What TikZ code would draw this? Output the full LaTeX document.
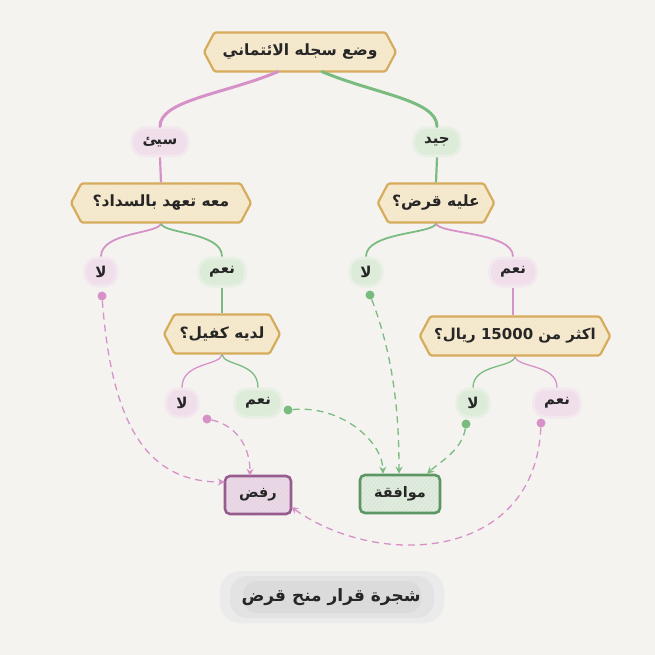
\documentclass[tikz,border=0pt]{standalone}
\usepackage{fontspec}
\TeXXeTstate=1
\newfontfamily\arabicfont[Script=Arabic]{DejaVu Sans}
\usetikzlibrary{shapes.symbols,patterns.meta,arrows.meta}
\newcommand\artxt[1]{{\arabicfont\bfseries\beginR #1\endR}}
\definecolor{bg}{RGB}{245,243,240}
\definecolor{pinkline}{RGB}{214,146,200}
\definecolor{greenline}{RGB}{122,188,128}
\definecolor{pinkblob}{RGB}{240,222,235}
\definecolor{greenblob}{RGB}{220,236,217}
\definecolor{hexfill}{RGB}{246,234,206}
\definecolor{hexborder}{RGB}{214,172,92}
\definecolor{rejfill}{RGB}{234,216,230}
\definecolor{rejborder}{RGB}{150,92,142}
\definecolor{appfill}{RGB}{224,236,221}
\definecolor{appborder}{RGB}{92,150,98}
\definecolor{ink}{RGB}{38,38,38}
\tikzset{
  hexbox/.style={signal, signal to=east and west, signal pointer angle=124,
    draw=hexborder, line width=2.2pt, rounded corners=1.5pt,
    preaction={fill=hexfill},
    pattern={Lines[angle=50,distance=3.2pt,line width=0.35pt]}, pattern color=hexborder!35,
    minimum height=39pt, inner xsep=4pt, font=\fontsize{15.5}{17}\selectfont, text=ink},
  pinklab/.style={fill=pinkblob, draw=pinkblob, draw opacity=0.5, line width=6pt, rounded corners=11pt,
    minimum height=25pt, minimum width=25pt, inner xsep=9pt, font=\fontsize{15}{17}\selectfont, text=ink},
  greenlab/.style={pinklab, fill=greenblob, draw=greenblob},
  pdot/.style={circle, fill=pinkline, inner sep=0pt, minimum size=9pt},
  gdot/.style={circle, fill=greenline, inner sep=0pt, minimum size=9pt},
  resbox/.style={rounded corners=5pt, line width=2.6pt, minimum height=38pt,
    font=\fontsize{14.5}{16}\selectfont, text=ink},
  pdash/.style={draw=pinkline, line width=1.3pt, dash pattern=on 7pt off 5pt, -{Stealth[length=7pt,width=7pt]}},
  gdash/.style={draw=greenline, line width=1.3pt, dash pattern=on 7pt off 5pt, -{Stealth[length=7pt,width=7pt]}},
}
\begin{document}
\begin{tikzpicture}[x=1pt,y=-1pt]
\useasboundingbox (0,0) rectangle (655,655);
\fill[bg] (0,0) rectangle (655,655);

% title blob
\fill[gray!16, rounded corners=20pt] (220,571) rectangle (444,623);
\fill[gray!22, rounded corners=17pt] (230,576) rectangle (434,618);
\fill[gray!28, rounded corners=14pt] (243,581) rectangle (421,613);
\node (title) at (331,597) {\fontsize{17}{19}\selectfont\color{ink}\artxt{شجرة قرار منح قرض}};

% nodes
\node[hexbox, minimum width=192pt] (root) at (300,52) {\artxt{وضع سجله الائتماني}};
\node[pinklab] (bad) at (160,142) {\artxt{سيئ}};
\node[greenlab] (good) at (437,142) {\artxt{جيد}};
\node[hexbox, minimum width=180pt] (q1) at (161,203) {\artxt{معه تعهد بالسداد؟}};
\node[hexbox, minimum width=116pt] (q2) at (436,203) {\artxt{عليه قرض؟}};
\node[pinklab] (n1) at (101,272) {\artxt{لا}};
\node[greenlab] (y1) at (222,272) {\artxt{نعم}};
\node[greenlab] (n2) at (366,272) {\artxt{لا}};
\node[pinklab] (y2) at (513,272) {\artxt{نعم}};
\node[hexbox, minimum width=116pt] (q3) at (222,334) {\artxt{لديه كفيل؟}};
\node[hexbox, minimum width=184pt, font=\fontsize{15}{17}\selectfont] (q4) at (515,336) {\artxt{اكثر من \beginL15000\endL{} ريال؟}};
\node[pinklab] (n3) at (182,403) {\artxt{لا}};
\node[greenlab] (y3) at (258,403) {\artxt{نعم}};
\node[greenlab] (n4) at (473,403) {\artxt{لا}};
\node[pinklab] (y4) at (557,403) {\artxt{نعم}};
\node[resbox, draw=rejborder, preaction={fill=rejfill}, pattern={Lines[angle=50,distance=3pt,line width=0.35pt]}, pattern color=rejborder!30, minimum width=66pt] (reject) at (258,495) {\artxt{رفض}};
\node[resbox, draw=appborder, preaction={fill=appfill}, pattern={Lines[angle=50,distance=3pt,line width=0.35pt]}, pattern color=appborder!30, minimum width=80pt] (approve) at (400,494) {\artxt{موافقة}};

\node[pdot] (d1) at (102,296) {};
\node[gdot] (d2) at (370,295) {};
\node[pdot] (d3) at (207,419) {};
\node[gdot] (d4) at (288,410) {};
\node[gdot] (d5) at (466,424) {};
\node[pdot] (d6) at (541,423) {};

% tree connectors
\draw[pinkline, line width=3pt, line cap=round] ([xshift=-22pt]root.south) .. controls (225,94) and (160,100) .. (bad.north);
\draw[greenline, line width=3pt, line cap=round] ([xshift=22pt]root.south) .. controls (375,94) and (437,100) .. (good.north);
\draw[pinkline, line width=2.2pt] (bad.south) -- (q1.north);
\draw[greenline, line width=2.2pt] (good.south) -- (q2.north);

\draw[pinkline, line width=1.8pt] (q1.south) .. controls (158,234) and (101,232) .. (n1.north);
\draw[greenline, line width=1.8pt] (q1.south) .. controls (164,234) and (222,232) .. (y1.north);
\draw[greenline, line width=1.8pt] (q2.south) .. controls (433,234) and (366,232) .. (n2.north);
\draw[pinkline, line width=1.8pt] (q2.south) .. controls (439,234) and (513,232) .. (y2.north);

\draw[greenline, line width=1.6pt] (y1.south) -- (q3.north);
\draw[pinkline, line width=1.6pt] (y2.south) -- ([xshift=-2pt]q4.north);

\draw[pinkline, line width=1.3pt] (q3.south) .. controls (220,366) and (182,362) .. (n3.north);
\draw[greenline, line width=1.3pt] (q3.south) .. controls (224,366) and (258,362) .. (y3.north);
\draw[greenline, line width=1.3pt] (q4.south) .. controls (513,368) and (473,364) .. (n4.north);
\draw[pinkline, line width=1.3pt] (q4.south) .. controls (517,368) and (557,364) .. (y4.north);

% dashed arrows
\draw[pdash] (d1) .. controls (112,430) and (150,482) .. ([yshift=13pt]reject.west);
\draw[pdash] (d3) .. controls (235,425) and (250,445) .. ([xshift=-8pt]reject.north);
\draw[gdash] (d4) .. controls (340,405) and (382,440) .. ([xshift=-17pt]approve.north);
\draw[gdash] (d2) .. controls (395,360) and (399,420) .. ([xshift=-1pt]approve.north);
\draw[gdash] (d5) .. controls (462,450) and (440,462) .. ([xshift=27pt]approve.north);
\draw[pdash] (d6) .. controls (535,560) and (380,570) .. ([yshift=-12pt]reject.east);
\end{tikzpicture}
\end{document}
